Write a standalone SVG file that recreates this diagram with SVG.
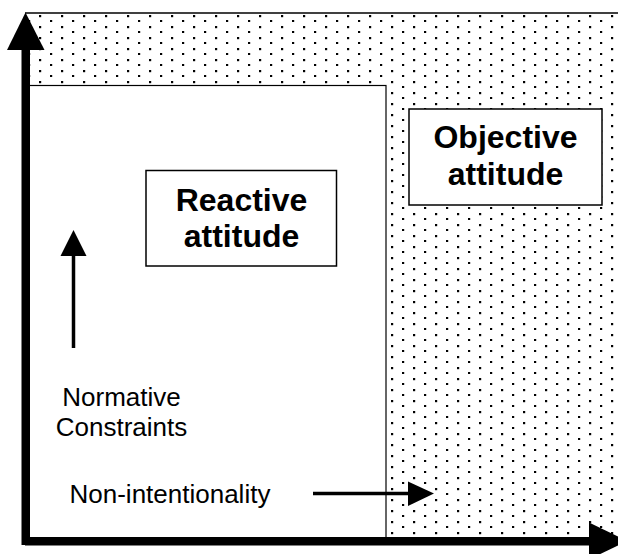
<svg xmlns="http://www.w3.org/2000/svg" width="618" height="554" viewBox="0 0 618 554">
<style>
.box{fill:#fff;stroke:#000;stroke-width:1.5}
.t{font-family:"Liberation Sans",Arial,sans-serif;font-size:26px;fill:#000}
.b{font-family:"Liberation Sans",Arial,sans-serif;font-size:32px;font-weight:bold;fill:#000;text-anchor:middle}
</style>
<defs>
<pattern id="dots" patternUnits="userSpaceOnUse" x="0" y="0" width="22" height="11">
<rect x="17" y="4" width="2.2" height="2.2" fill="#000"/>
<rect x="6" y="9" width="2.2" height="2.2" fill="#000"/>
</pattern>
</defs>
<rect width="618" height="554" fill="#fff"/>
<g id="objective-region">
<rect x="25" y="13" width="600" height="528" fill="url(#dots)"/>
<line x1="25" y1="13" x2="618" y2="13" stroke="#000" stroke-width="1.5"/>
</g>
<g id="reactive-region">
<rect x="25" y="85.5" width="361" height="456" fill="#fff" stroke="#000" stroke-width="1.2"/>
</g>
<g id="reactive-box">
<rect class="box" x="146" y="170.5" width="190.5" height="95.5"/>
<text class="b" x="241.5" y="210.5">Reactive</text>
<text class="b" x="241.5" y="246.5">attitude</text>
</g>
<g id="objective-box">
<rect class="box" x="409" y="109" width="193" height="96"/>
<text class="b" x="505.5" y="148">Objective</text>
<text class="b" x="505.5" y="185">attitude</text>
</g>
<g id="normative-label">
<text class="t" x="121.5" y="406" text-anchor="middle">Normative</text>
<text class="t" x="121.5" y="436" text-anchor="middle">Constraints</text>
</g>
<g id="nonint-label">
<text class="t" x="69.5" y="502.5">Non-intentionality</text>
</g>
<g id="connectors">
<rect x="21.5" y="48" width="8.5" height="497" fill="#000"/>
<polygon points="25.5,12.5 44.5,50 7,50" fill="#000"/>
<rect x="25" y="537" width="566" height="8.5" fill="#000"/>
<polygon points="589,522.5 627,541 589,559.5" fill="#000"/>
<line x1="73.5" y1="254" x2="73.5" y2="348" stroke="#000" stroke-width="3.5"/>
<polygon points="73.5,230 86.5,256 60.5,256" fill="#000"/>
<line x1="313" y1="493.5" x2="410" y2="493.5" stroke="#000" stroke-width="3.5"/>
<polygon points="408,481.5 434,493.5 408,506" fill="#000"/>
</g>
</svg>
